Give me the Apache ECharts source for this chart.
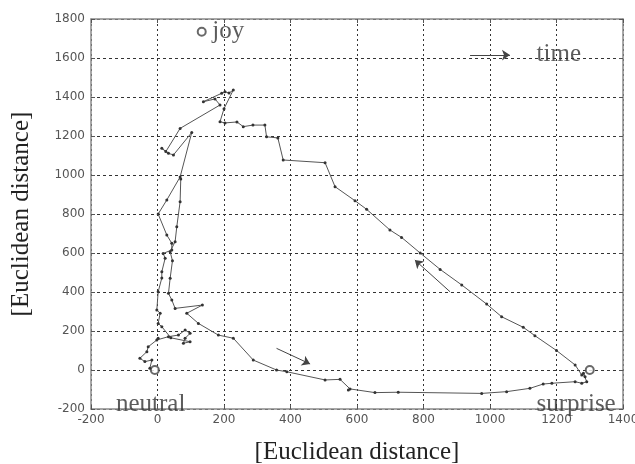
<!DOCTYPE html>
<html>
<head>
<meta charset="utf-8">
<script src="https://cdn.jsdelivr.net/npm/echarts@6/dist/echarts.min.js"></script>
<style>
  html, body { margin: 0; padding: 0; background: #fff; }
  #chart { width: 635px; height: 464px; }
</style>
</head>
<body>
<div id="chart"></div>
<script>
// axis ranges / ticks
const xTicks = [-200, 0, 200, 400, 600, 800, 1000, 1200, 1400]
const yTicks = [-200, 0, 200, 400, 600, 800, 1000, 1200, 1400, 1600, 1800]

// trajectory (neutral -> joy -> surprise -> back)
const trajectory = [
  [-23, 9], [-17, 51], [-38, 43], [-53, 60], [-32, 94], [-28, 119], [-2, 154],
  [2, 163], [33, 171], [63, 179], [83, 205], [98, 188], [83, 163], [78, 137],
  [98, 145], [40, 165], [13, 222], [2, 239], [8, 291], [-2, 308], [2, 401],
  [13, 472], [13, 504], [23, 573], [17, 598], [43, 615], [43, 650], [28, 692],
  [2, 800], [28, 872], [68, 990], [103, 1218], [48, 1103], [33, 1111], [13, 1137],
  [25, 1120], [68, 1239], [188, 1359], [173, 1390], [138, 1376], [193, 1419],
  [203, 1427], [215, 1420], [228, 1436], [200, 1340], [188, 1273], [203, 1267],
  [239, 1272], [258, 1248], [287, 1256], [323, 1256], [328, 1196], [362, 1190],
  [378, 1077], [504, 1063], [534, 940], [594, 868], [629, 824], [699, 718],
  [734, 680], [790, 600], [850, 516], [915, 436], [990, 338], [1035, 273],
  [1100, 219], [1135, 176], [1200, 100], [1256, 26], [1276, -26], [1286, -35],
  [1281, -17], [1291, -60], [1276, -68], [1256, -60], [1186, -68], [1160, -72],
  [1120, -94], [1050, -111], [975, -120], [724, -114], [654, -116], [579, -97],
  [574, -103], [549, -48], [504, -51], [389, -9], [358, 0], [288, 51], [228, 163],
  [183, 179], [123, 239], [88, 291], [135, 333], [53, 316], [43, 359], [33, 393],
  [38, 470], [45, 560], [38, 607], [53, 658], [58, 735], [68, 863], [70, 980]
]

// small direction arrows drawn on the plot
const arrowA = [[358, 111], [459, 31]]
const arrowB = [[880, 401], [774, 564]]
const timeArrow = [[940, 1615], [1060, 1615]]

// emotion anchor circles
const anchors = [[133, 1735], [-8, 0], [1300, 0]]

// text annotations
const labels = [
  { name: 'joy', value: [165, 1738] },
  { name: 'neutral', value: [-125, -175] },
  { name: 'surprise', value: [1140, -175] },
  { name: 'time', value: [1140, 1620] }
]

const serif = 'Liberation Serif'
const chart = echarts.init(document.getElementById('chart'))

const frameAxis = {
  min: -200,
  interval: 200,
  axisLine: { show: true, onZero: false, lineStyle: { color: '#8a8a8a', width: 1.5 } },
  axisTick: { show: true, inside: true, length: 4, lineStyle: { color: '#555' } },
  axisLabel: { show: false },
  splitLine: { show: false }
}

const tickLabel = {
  color: '#555', fontSize: 12, fontFamily: 'DejaVu Sans',
  formatter: v => String(v)
}

const option = {
  animation: false,
  grid: { left: 91, top: 19, right: 12, bottom: 55, outerBoundsMode: 'none' },
  xAxis: [
    {
      type: 'value', min: xTicks[0], max: xTicks[xTicks.length - 1], interval: 200,
      name: '[Euclidean distance]', nameLocation: 'middle', nameGap: 31,
      nameTextStyle: { fontFamily: serif, fontSize: 25, color: '#222' },
      axisLine: { onZero: false, lineStyle: { color: '#8a8a8a', width: 1.5 } },
      axisTick: { inside: true, length: 4, lineStyle: { color: '#555' } },
      axisLabel: Object.assign({ margin: 5 }, tickLabel),
      splitLine: { show: true, lineStyle: { color: '#333', type: [2, 3], width: 1 } }
    },
    Object.assign({}, frameAxis, { type: 'value', max: 1400, position: 'top' })
  ],
  yAxis: [
    {
      type: 'value', min: yTicks[0], max: yTicks[yTicks.length - 1], interval: 200,
      name: '[Euclidean distance]', nameLocation: 'middle', nameGap: 57,
      nameTextStyle: { fontFamily: serif, fontSize: 25, color: '#222' },
      axisLine: { show: true, onZero: false, lineStyle: { color: '#8a8a8a', width: 1.5 } },
      axisTick: { show: true, inside: true, length: 4, lineStyle: { color: '#555' } },
      axisLabel: Object.assign({ margin: 6 }, tickLabel),
      splitLine: { show: true, lineStyle: { color: '#333', type: [3, 3], width: 1 } }
    },
    Object.assign({}, frameAxis, { type: 'value', max: 1800, position: 'right' })
  ],
  series: [
    {
      type: 'line',
      data: trajectory,
      symbol: 'circle',
      symbolSize: 3,
      itemStyle: { color: '#333' },
      lineStyle: { color: '#555', width: 1 }
    },
    {
      type: 'lines',
      coordinateSystem: 'cartesian2d',
      data: [{ coords: arrowA }, { coords: arrowB }, { coords: timeArrow }],
      symbol: ['none', 'arrow'],
      symbolSize: 8,
      lineStyle: { color: '#444', width: 1, opacity: 1 }
    },
    {
      type: 'scatter', data: anchors,
      symbol: 'emptyCircle', symbolSize: 8,
      itemStyle: { color: '#444', borderWidth: 1 }
    },
    {
      type: 'scatter', data: labels,
      symbolSize: 0,
      label: {
        show: true, position: 'right', distance: 0,
        formatter: '{b}', fontFamily: serif, fontSize: 25, color: '#333'
      }
    }
  ]
}
chart.setOption(option)
</script>
</body>
</html>
